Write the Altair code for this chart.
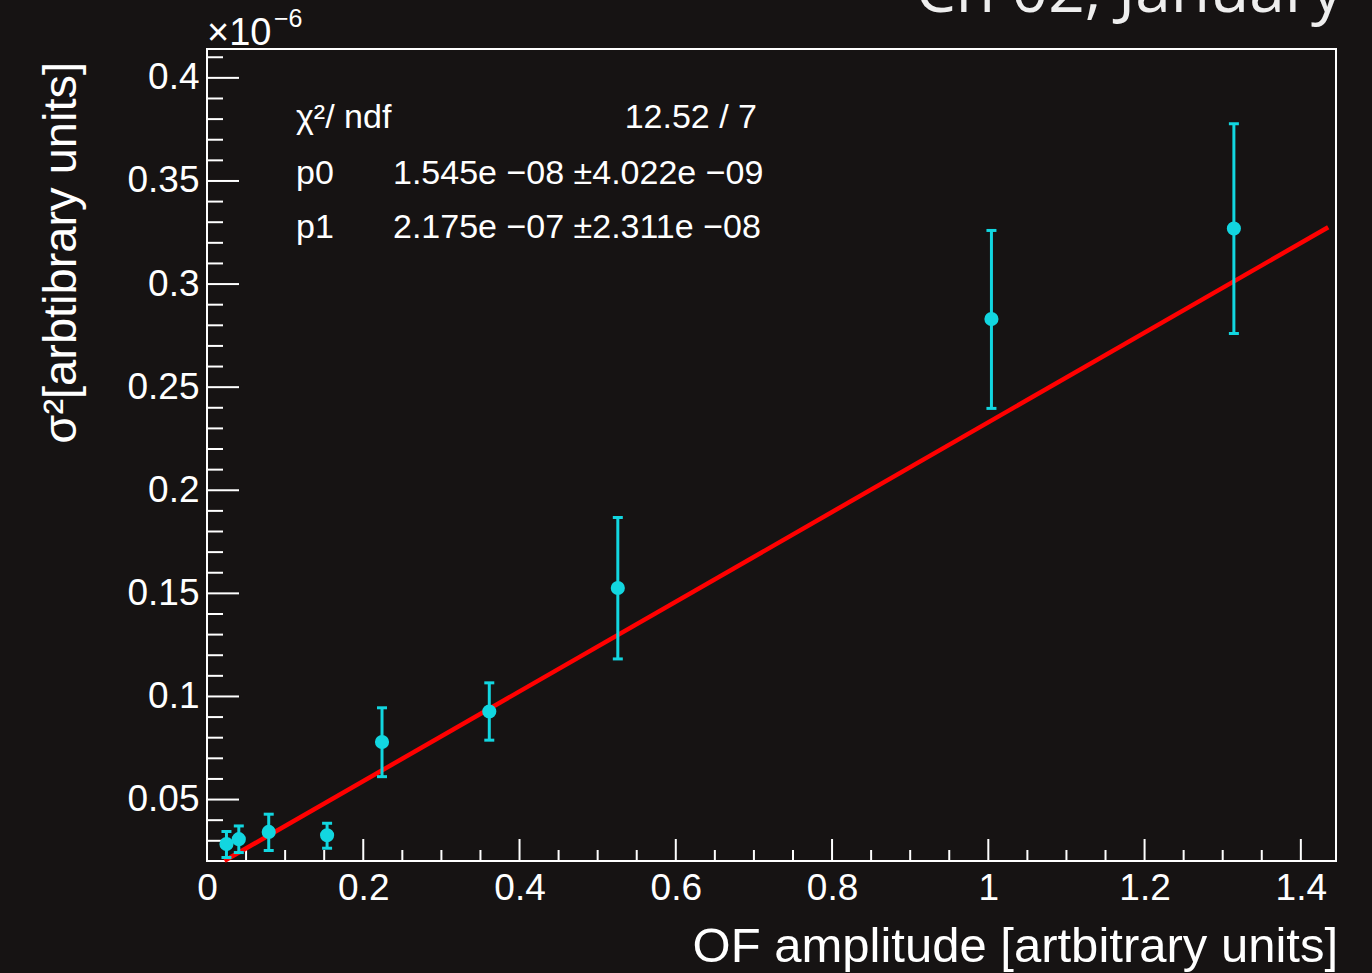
import altair as alt
import pandas as pd

# Measured points: OF amplitude vs. variance (sigma^2, in units of 1e-6)
amp = [0.0249, 0.0407, 0.0790, 0.1537, 0.2240, 0.3613, 0.5258, 1.0040, 1.3143]
sigma2 = [0.0284, 0.0308, 0.0343, 0.0327, 0.0779, 0.0927, 0.1526, 0.2830, 0.3269]
sigma2_lo = [0.0219, 0.0243, 0.0253, 0.0264, 0.0611, 0.0788, 0.1182, 0.2397, 0.2760]
sigma2_hi = [0.0345, 0.0372, 0.0429, 0.0385, 0.0945, 0.1066, 0.1868, 0.3260, 0.3777]

# Linear fit result (p0 + p1 * x), scaled to 1e-6 units
p0 = 1.545e-08 / 1e-6
p1 = 2.175e-07 / 1e-6
fit_range = [0.0224, 1.435]

# Axis tick values
x_major = [0.0, 0.2, 0.4, 0.6, 0.8, 1.0, 1.2, 1.4]
x_minor = [0.05, 0.1, 0.15, 0.25, 0.3, 0.35, 0.45, 0.5, 0.55, 0.65, 0.7, 0.75,
           0.85, 0.9, 0.95, 1.05, 1.1, 1.15, 1.25, 1.3, 1.35]
y_major = [0.05, 0.1, 0.15, 0.2, 0.25, 0.3, 0.35, 0.4]
y_minor = [0.03, 0.04, 0.06, 0.07, 0.08, 0.09, 0.11, 0.12, 0.13, 0.14, 0.16, 0.17,
           0.18, 0.19, 0.21, 0.22, 0.23, 0.24, 0.26, 0.27, 0.28, 0.29, 0.31, 0.32,
           0.33, 0.34, 0.36, 0.37, 0.38, 0.39, 0.41]

X_DOMAIN = [0.0, 1.445]
Y_DOMAIN = [0.0202, 0.414]

FONT = "Liberation Sans"
CYAN = "#12d6e0"
RED = "#ff0000"
BG = "#161313"

PLOT_W, PLOT_H = 1129, 812

pts = pd.DataFrame({"amp": amp, "s2": sigma2, "lo": sigma2_lo, "hi": sigma2_hi})
fit = pd.DataFrame({"amp": fit_range, "s2": [p0 + p1 * v for v in fit_range]})

xs = alt.Scale(domain=X_DOMAIN, nice=False, zero=False)
ys = alt.Scale(domain=Y_DOMAIN, nice=False, zero=False)

x_axis = alt.Axis(values=x_major, format="~g", ticks=False, domain=False, grid=False,
                  labelFontSize=37, labelColor="white", labelFont=FONT, labelPadding=9,
                  labelFlush=False, labelOverlap=False, labelBound=False, title=None)
y_axis = alt.Axis(values=y_major, format=".2~f", ticks=False, domain=False, grid=False,
                  labelFontSize=37, labelColor="white", labelFont=FONT, labelPadding=8,
                  labelFlush=False, labelOverlap=False, labelBound=False, title=None)


def X(field):
    return alt.X(field, type="quantitative", scale=xs, axis=x_axis)


def Y(field):
    return alt.Y(field, type="quantitative", scale=ys, axis=y_axis)


# Inward-pointing tick marks, ROOT style
xmaj = alt.Chart(pd.DataFrame({"amp": x_major})).mark_rule(color="white", strokeWidth=2).encode(
    x=X("amp"), y=alt.value(PLOT_H), y2=alt.value(PLOT_H - 22))
xmin = alt.Chart(pd.DataFrame({"amp": x_minor})).mark_rule(color="white", strokeWidth=2).encode(
    x=X("amp"), y=alt.value(PLOT_H), y2=alt.value(PLOT_H - 11))
ymaj = alt.Chart(pd.DataFrame({"s2": y_major})).mark_rule(color="white", strokeWidth=2).encode(
    y=Y("s2"), x=alt.value(0), x2=alt.value(32))
ymin = alt.Chart(pd.DataFrame({"s2": y_minor})).mark_rule(color="white", strokeWidth=2).encode(
    y=Y("s2"), x=alt.value(0), x2=alt.value(16))

fit_line = alt.Chart(fit).mark_line(color=RED, strokeWidth=4.5).encode(x=X("amp"), y=Y("s2"))

err = alt.Chart(pts).mark_rule(color=CYAN, strokeWidth=3).encode(
    x=X("amp"), y=Y("lo"), y2="hi:Q")
cap_lo = alt.Chart(pts).mark_tick(color=CYAN, orient="horizontal", size=10, thickness=3, opacity=1).encode(
    x=X("amp"), y=Y("lo"))
cap_hi = alt.Chart(pts).mark_tick(color=CYAN, orient="horizontal", size=10, thickness=3, opacity=1).encode(
    x=X("amp"), y=Y("hi"))
dots = alt.Chart(pts).mark_circle(color=CYAN, size=200, opacity=1).encode(x=X("amp"), y=Y("s2"))


def label(text, x, y, size, align="left", angle=0, font=FONT, color="white"):
    return alt.Chart(pd.DataFrame({"t": [text]})).mark_text(
        align=align, baseline="alphabetic", fontSize=size, font=font, color=color, angle=angle
    ).encode(x=alt.value(x), y=alt.value(y), text="t:N")


texts = [
    # fit statistics
    label("χ²/ ndf", 89, 79, 34),
    label("12.52 / 7", 550, 79, 34, align="right"),
    label("p0", 89, 135, 34),
    label("1.545e −08 ±4.022e −09", 186, 135, 34),
    label("p1", 89, 189, 34),
    label("2.175e −07 ±2.311e −08", 186, 189, 34),
    # exponent of the y axis
    label("×10", 0, -4, 38),
    label("−6", 67, -22, 25),
    # axis titles
    label("OF amplitude [artbitrary units]", 1131, 913, 49, align="right"),
    label("σ²[arbtibrary units]", -131, 13, 47, align="right", angle=270),
    # canvas title
    label("Ch 02, January", 1136, -37, 64, align="right", font="Open Sans", color="#eeeeee"),
]

chart = alt.layer(
    xmin, xmaj, ymin, ymaj, fit_line, err, cap_lo, cap_hi, dots, *texts
).properties(
    width=PLOT_W,
    height=PLOT_H,
    autosize=alt.AutoSizeParams(type="none"),
    padding={"left": 207, "top": 49, "right": 36, "bottom": 112},
    background=BG,
).configure_view(stroke="white", strokeWidth=2)

chart.save("out.html", embed_options={"renderer": "svg", "actions": False})
